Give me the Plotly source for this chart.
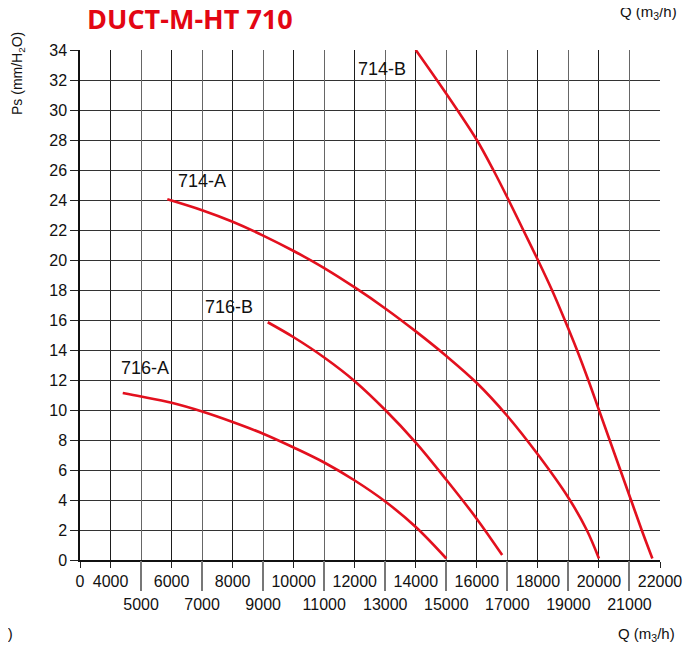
import plotly.graph_objects as go

# ---------------- data ----------------
q_716a = [4400, 5000, 6000, 7000, 8000, 9000, 10000, 11000, 12000, 13000, 14000, 15000]
ps_716a = [11.13, 10.9, 10.48, 9.9, 9.2, 8.42, 7.5, 6.5, 5.3, 3.9, 2.2, 0.1]

q_716b = [9150, 10000, 11000, 12000, 13000, 14000, 15000, 16000, 16830]
ps_716b = [15.85, 14.85, 13.5, 11.92, 10.0, 7.83, 5.35, 2.74, 0.33]

q_714a = [5860, 7000, 8000, 9000, 10000, 11000, 12000, 13000, 14000, 15000,
          16000, 17000, 18000, 19000, 19600, 20000]
ps_714a = [24.05, 23.32, 22.55, 21.63, 20.6, 19.46, 18.17, 16.77, 15.24, 13.6,
           11.8, 9.6, 7.03, 4.15, 2.0, 0.1]

q_714b = [14000, 14690, 15360, 16000, 16540, 17040, 17520, 18000, 18460, 18880,
          19280, 19650, 20000, 20350, 20700, 21050, 21400, 21750]
ps_714b = [34, 32, 30, 28, 26, 24, 22, 20, 18, 16, 14, 12, 10, 8, 6, 4, 2, 0.1]

curve_names = ["716-A", "716-B", "714-A", "714-B"]
label_q = [5140, 7875, 7000, 12900]
label_ps = [12.8, 16.9, 25.25, 32.75]

x_even_vals = [3000, 4000, 6000, 8000, 10000, 12000, 14000, 16000, 18000, 20000, 22000]
x_even_text = ["0", "4000", "6000", "8000", "10000", "12000", "14000", "16000",
               "18000", "20000", "22000"]
x_odd_vals = [5000, 7000, 9000, 11000, 13000, 15000, 17000, 19000, 21000]
x_odd_text = [str(v) for v in x_odd_vals]
y_vals = list(range(0, 35, 2))

title_text = "DUCT-M-HT 710"
y_title = "Ps (mm/H<sub>2</sub>O)"
x_title = "Q (m<sub>3</sub>/h)"

# ---------------- figure ----------------
RED = "#e3101e"
FONT = "Liberation Sans, Arial, sans-serif"

# the page body adds an 8px offset; compensate so the plot area sits at 80..660 x 50..560
OFF = 8
W, H = 699 - OFF, 648 - OFF
L, R, T, B = 80 - OFF, 39, 50 - OFF, 88
PL, PR, PT, PB = 80, 660, 50, 560   # plot area in page pixels


def paper_x(px):
    return (px - PL) / (PR - PL)


def paper_y(py):
    return (PB - py) / (PB - PT)


fig = go.Figure()
series = [(q_716a, ps_716a), (q_716b, ps_716b), (q_714a, ps_714a), (q_714b, ps_714b)]
for i, (q, ps) in enumerate(series):
    fig.add_trace(go.Scatter(
        x=q, y=ps, mode="lines", name=curve_names[i],
        line=dict(color=RED, width=2.6, shape="spline", smoothing=1.0),
        xaxis="x2" if i == 3 else "x", yaxis="y",
        hoverinfo="skip", showlegend=False,
    ))

for name, qx, py in zip(curve_names, label_q, label_ps):
    fig.add_annotation(x=qx, y=py, xref="x", yref="y", text=name, showarrow=False,
                       xanchor="center", yanchor="middle",
                       font=dict(family=FONT, size=18, color="#111"))

txt_font = dict(family=FONT, size=15, color="#111")
fig.add_annotation(x=paper_x(18), y=paper_y(74), xref="paper", yref="paper",
                   text=y_title, textangle=-90, showarrow=False,
                   xanchor="center", yanchor="middle",
                   font=dict(family=FONT, size=14, color="#111"))
fig.add_annotation(x=paper_x(646), y=paper_y(634), xref="paper", yref="paper",
                   text=x_title, showarrow=False,
                   xanchor="center", yanchor="middle", font=txt_font)
fig.add_annotation(x=paper_x(648), y=paper_y(12), xref="paper", yref="paper",
                   text=x_title, showarrow=False,
                   xanchor="center", yanchor="middle", font=txt_font)
fig.add_annotation(x=paper_x(15), y=paper_y(634), xref="paper", yref="paper",
                   text=x_title, showarrow=False,
                   xanchor="right", yanchor="middle", font=txt_font)

fig.update_layout(
    width=W, height=H,
    margin=dict(l=L, r=R, t=T, b=B),
    paper_bgcolor="white", plot_bgcolor="white",
    title=dict(text="<b>" + title_text + "</b>", x=(87 - OFF) / W, xanchor="left",
               y=1 - (20 - OFF) / H, yanchor="middle", xref="container", yref="container",
               font=dict(family="Open Sans, sans-serif", size=27, color="#e30613")),
    xaxis=dict(range=[3000, 22000], tickvals=x_even_vals, ticktext=x_even_text,
               ticks="outside", ticklen=6, tickcolor="#222", tickwidth=1,
               showgrid=True, gridcolor="#1e1e1e", gridwidth=1,
               showline=True, linecolor="#111", linewidth=1.5, zeroline=False,
               tickfont=dict(family=FONT, size=16, color="#111"), fixedrange=True),
    xaxis2=dict(range=[3000, 22000], overlaying="x", anchor="y", side="bottom",
                tickvals=x_odd_vals, ticktext=x_odd_text,
                ticks="outside", ticklen=30, tickcolor="#777", tickwidth=1.5,
                showgrid=True, gridcolor="#666", gridwidth=1,
                showline=False, zeroline=False,
                tickfont=dict(family=FONT, size=16, color="#111"), fixedrange=True),
    yaxis=dict(range=[0, 34], tickvals=y_vals, ticks="outside", ticklen=8,
               tickcolor="#222", showgrid=True, gridcolor="#333", gridwidth=1,
               showline=True, linecolor="#111", linewidth=1.5, zeroline=False,
               tickfont=dict(family=FONT, size=16, color="#111"), fixedrange=True),
)

fig.write_html("out.html")
